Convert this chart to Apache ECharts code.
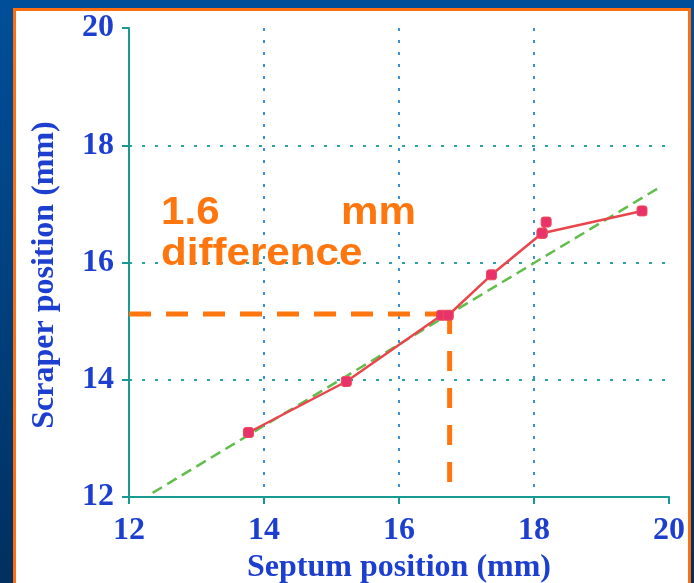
<!DOCTYPE html>
<html>
<head>
<meta charset="utf-8">
<script src="https://cdn.jsdelivr.net/npm/echarts@6/dist/echarts.min.js"></script>
<style>
  html, body { margin: 0; padding: 0; }
  body { width: 694px; height: 583px; overflow: hidden; position: relative;
         background: linear-gradient(to bottom, #004e9a 0%, #003f7c 55%, #00305e 100%); }
  #panel { position: absolute; left: 13px; top: 8px; width: 672px; height: 600px;
           background: #ffffff; border: 3px solid #ff6f0f; }
  #chart { position: absolute; left: 0; top: 0; width: 694px; height: 583px; }
</style>
</head>
<body>
<div id="panel"></div>
<div id="chart"></div>
<script>
// ---- data ----
const septum  = [13.77, 15.22, 16.63, 16.73, 17.37, 18.12, 19.60];
const scraper = [13.10, 13.97, 15.10, 15.10, 15.79, 16.50, 16.88];
const extraSeptum  = [18.12, 18.18];
const extraScraper = [16.50, 16.69];
const fitX = [12.35, 19.90];
const fitY = [12.07, 17.31];
const refX = 16.75;      // septum position at reference
const refY = 15.12;      // scraper position at reference
const refBottom = 12.24; // lower end of vertical guide
const xTicks = [12, 14, 16, 18, 20];
const yTicks = [12, 14, 16, 18, 20];
const note1a = '1.6', note1b = 'mm', note2 = 'difference';
const xTitle = 'Septum position (mm)';
const yTitle = 'Scraper position (mm)';

const blue = '#1d3fd0';
const teal = '#179a92';
const orange = '#ff760f';
const noteFont = 'bold 39px "Liberation Sans", Arial, sans-serif';

const pairs = (xs, ys) => xs.map((x, i) => [x, ys[i]]);

const chart = echarts.init(document.getElementById('chart'), null, { renderer: 'canvas' });
chart.setOption({
  backgroundColor: 'transparent',
  animation: false,
  grid: { left: 129, right: 25, top: 28, bottom: 86, containLabel: false, outerBoundsMode: 'none' },
  xAxis: {
    type: 'value', min: xTicks[0], max: xTicks[xTicks.length - 1], interval: 2,
    name: xTitle, nameLocation: 'middle', nameGap: 47,
    nameTextStyle: { color: blue, fontFamily: 'Liberation Serif', fontWeight: 'bold', fontSize: 32 },
    axisLine: { show: true, lineStyle: { color: teal, width: 2 } },
    axisTick: { show: true, length: 7, lineStyle: { color: teal, width: 2 } },
    axisLabel: { margin: 18, color: blue, fontFamily: 'Liberation Serif', fontWeight: 'bold', fontSize: 32 },
    splitLine: { show: true, showMinLine: false, showMaxLine: false,
                 lineStyle: { color: '#3b8fd6', width: 2, type: [3, 9] } }
  },
  yAxis: {
    type: 'value', min: yTicks[0], max: yTicks[yTicks.length - 1], interval: 2,
    axisLine: { show: true, lineStyle: { color: teal, width: 2 } },
    axisTick: { show: true, length: 7, lineStyle: { color: teal, width: 2 } },
    axisLabel: { margin: 15, color: blue, fontFamily: 'Liberation Serif', fontWeight: 'bold', fontSize: 32 },
    splitLine: { show: true, showMinLine: false, showMaxLine: false,
                 lineStyle: { color: '#2aa3a3', width: 2, type: [3, 10] } }
  },
  graphic: [
    { type: 'text', x: 45, y: 275, rotation: Math.PI / 2, z: 100,
      style: { text: yTitle, fill: blue, textAlign: 'center', textVerticalAlign: 'middle',
               font: 'bold 32px "Liberation Serif", serif' } },
    { type: 'text', x: 161, y: 194, scaleX: 1.08, z: 100,
      style: { text: note1a, fill: orange, font: noteFont, textVerticalAlign: 'top' } },
    { type: 'text', x: 341, y: 194, scaleX: 1.08, z: 100,
      style: { text: note1b, fill: orange, font: noteFont, textVerticalAlign: 'top' } },
    { type: 'text', x: 161, y: 235, scaleX: 1.08, z: 100,
      style: { text: note2, fill: orange, font: noteFont, textVerticalAlign: 'top' } }
  ],
  series: [
    { type: 'line', data: pairs(fitX, fitY), symbol: 'none', z: 2,
      lineStyle: { color: '#62be4c', width: 2.5, type: [11, 6] } },
    { type: 'line', data: [[xTicks[0], refY], [refX, refY]], symbol: 'none', z: 3,
      lineStyle: { color: orange, width: 5, type: [22, 15] } },
    { type: 'line', data: [[refX, refY], [refX, refBottom]], symbol: 'none', z: 3,
      lineStyle: { color: orange, width: 5, type: [20, 17] } },
    { type: 'line', data: pairs(extraSeptum, extraScraper), symbol: 'roundRect', symbolSize: 10, z: 4,
      lineStyle: { color: '#e8454c', width: 2.5 },
      itemStyle: { color: '#e8336a', borderColor: '#ef4a5a', borderWidth: 1 } },
    { type: 'line', data: pairs(septum, scraper), symbol: 'roundRect', symbolSize: 10, z: 5,
      lineStyle: { color: '#e8454c', width: 2.5 },
      itemStyle: { color: '#e8336a', borderColor: '#ef4a5a', borderWidth: 1 } }
  ]
});
</script>
</body>
</html>
